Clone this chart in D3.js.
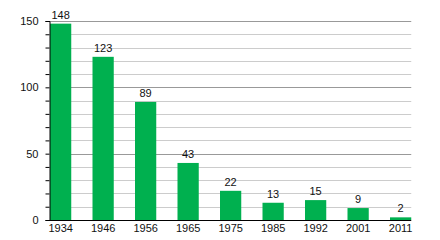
<!DOCTYPE html>
<html>
<head>
<meta charset="utf-8">
<script src="https://cdn.jsdelivr.net/npm/d3@7"></script>
<style>
  body { margin: 0; background: #fff; }
  svg text { font-family: "Liberation Sans", Arial, sans-serif; font-size: 11px; fill: #111; }
</style>
</head>
<body>
<div id="chart"></div>
<script>
const years = ["1934", "1946", "1956", "1965", "1975", "1985", "1992", "2001", "2011"];
const values = [148, 123, 89, 43, 22, 13, 15, 9, 2];
const majorTicks = [0, 50, 100, 150];
const minorTicks = d3.range(0, 151, 10);

const width = 440;
const height = 240;
const margin = { top: 21, right: 29, bottom: 20, left: 50 };

const svg = d3
  .select("#chart")
  .append("svg")
  .attr("width", width)
  .attr("height", height);

const x = d3
  .scaleBand()
  .domain(years)
  .range([margin.left, width - margin.right + 0.25])
  .paddingInner(0.5)
  .paddingOuter(0);

const y = d3
  .scaleLinear()
  .domain([0, 150])
  .range([height - margin.bottom, margin.top]);

// gridlines
svg
  .append("g")
  .selectAll("line")
  .data(minorTicks.filter((d) => d > 0))
  .join("line")
  .attr("x1", margin.left)
  .attr("x2", x.range()[1])
  .attr("y1", (d) => Math.round(y(d)) + 0.5)
  .attr("y2", (d) => Math.round(y(d)) + 0.5)
  .attr("stroke", (d) => (d % 50 === 0 ? "#999" : "#ccc"))
  .attr("stroke-width", 1);

// bars
svg
  .append("g")
  .selectAll("rect")
  .data(values)
  .join("rect")
  .attr("x", (d, i) => x(years[i]))
  .attr("y", (d) => y(d))
  .attr("width", x.bandwidth())
  .attr("height", (d) => y(0) - y(d))
  .attr("fill", "#00b04f");

// value labels
svg
  .append("g")
  .selectAll("text")
  .data(values)
  .join("text")
  .attr("x", (d, i) => x(years[i]) + x.bandwidth() / 2)
  .attr("y", (d) => y(d) - 5)
  .attr("text-anchor", "middle")
  .text((d) => d);

// y axis
const yAxis = svg
  .append("g")
  .attr("transform", `translate(${margin.left - 0.5},0)`);

yAxis
  .call(
    d3.axisLeft(y)
      .tickValues(minorTicks)
      .tickSize(4)
      .tickFormat((d) => (majorTicks.includes(d) ? d : ""))
  );
yAxis.select(".domain").attr("stroke", "#000");
yAxis.selectAll(".tick line").attr("stroke", "#000");
yAxis.selectAll(".tick text").attr("x", -11).attr("font-size", 11).attr("font-family", null);

// x axis
const xAxis = svg
  .append("g")
  .attr("transform", `translate(0,${height - margin.bottom + 0.5})`)
  .call(d3.axisBottom(x).tickSize(0).tickPadding(4));
xAxis.select(".domain").attr("stroke", "#000").attr("d", `M${margin.left - 1},0H${x.range()[1]}`);
xAxis.selectAll(".tick text").attr("font-size", 11).attr("font-family", null);
</script>
</body>
</html>
